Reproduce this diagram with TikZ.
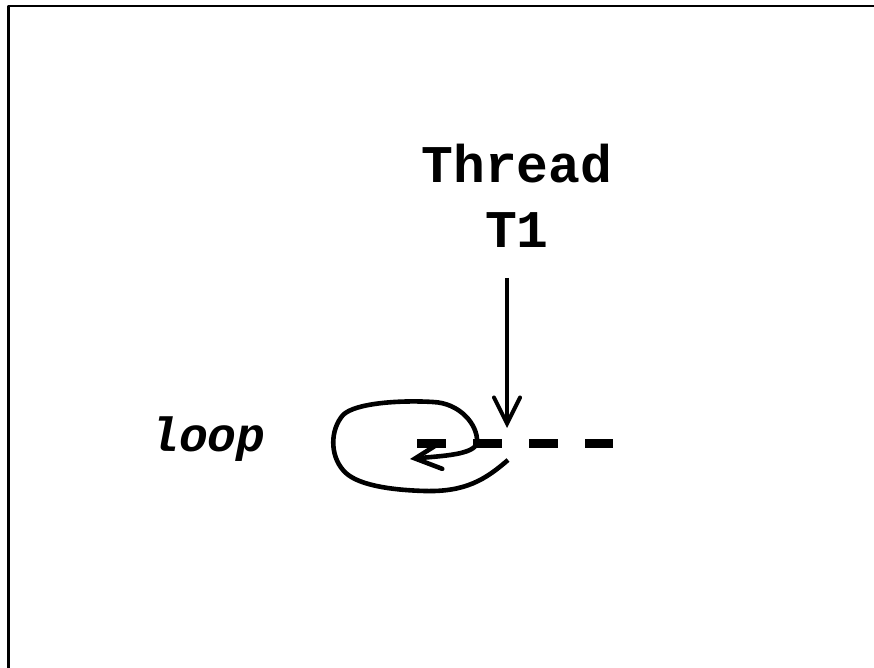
\documentclass[tikz,border=0pt]{standalone}
\usepackage{fontspec}
\setmonofont{Liberation Mono}
\usetikzlibrary{arrows.meta}

\begin{document}
\begin{tikzpicture}[x=0.5pt,y=-0.5pt,line join=round,
  name node/.style={font=\fontsize{26.5}{32.5}\selectfont\ttfamily\bfseries,align=center,inner sep=0pt},
  tag node/.style={font=\fontsize{24}{28}\selectfont\ttfamily\bfseries\itshape,inner sep=0pt},
  flow/.style={line width=2pt,-{Straight Barb[length=13pt,width=13pt,line cap=round]}},
  track/.style={line width=4.5pt,dash pattern=on 14.5pt off 13.5pt}]
  \useasboundingbox (0,0) rectangle (874,668);
  \draw[line width=1.2pt] (900,6) -- (8.5,6) -- (8.5,700);

  \node[name node,anchor=base] (t1) at (517,248) {Thread\\T1};
  \node[tag node,anchor=base] (lp) at (208,452) {loop};

  \coordinate (a) at (507,278);
  \coordinate (b) at (507,428);
  \coordinate (d1) at (417,444);
  \coordinate (d2) at (613,444);
  \coordinate (s) at (508,460);
  \coordinate (e) at (410,459);

  \draw[track] (d1) -- (d2);
  \path (a) edge[flow] (b);
  \draw[flow,line width=2.3pt] (s) .. controls (485,480) and (465,492) .. (425,491)
    .. controls (390,490) and (355,485) .. (343,470)
    .. controls (330,455) and (330,430) .. (343,415)
    .. controls (355,403) and (400,400) .. (433,402)
    .. controls (460,403) and (478,425) .. (477,442)
    .. controls (476,455) and (440,456) .. (e);
\end{tikzpicture}
\end{document}
